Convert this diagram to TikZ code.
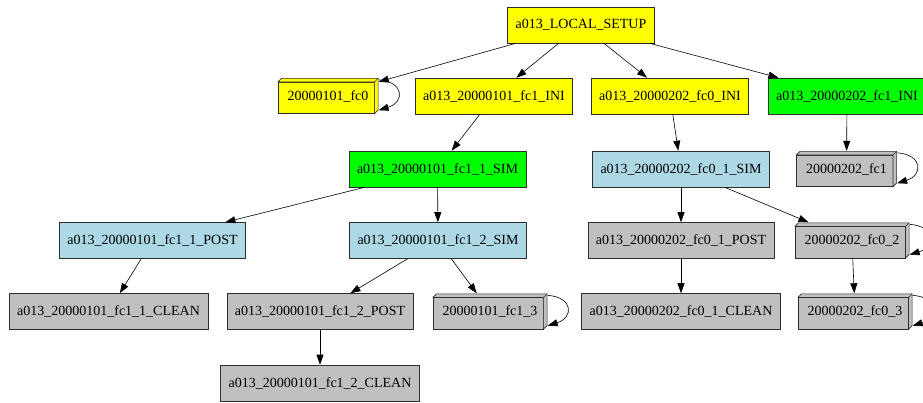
\documentclass[tikz,border=0pt]{standalone}
\usepackage{fontspec}
\setmainfont{Liberation Serif}
\usetikzlibrary{arrows.meta,calc}
\definecolor{yell}{RGB}{255,255,0}
\definecolor{lime}{RGB}{0,255,0}
\definecolor{lightblue}{RGB}{173,216,230}
\definecolor{silver}{RGB}{192,192,192}
\definecolor{edgegray}{RGB}{45,45,45}

\tikzset{
	job/.style={shape=rectangle,draw=edgegray,line width=0.6pt,
		minimum height=36pt,inner xsep=8pt,inner ysep=0pt,
		font=\fontsize{14}{16}\selectfont},
	box3d/.style={shape=rectangle,draw=none,
		minimum height=36pt,inner xsep=10pt,inner ysep=0pt,
		font=\fontsize{14}{16}\selectfont,
		path picture={
			\path (path picture bounding box.south west) coordinate (bsw)
				(path picture bounding box.north east) coordinate (bne);
			\filldraw[fill=#1,draw=edgegray,line width=0.6pt]
				($(bsw)+(0.3pt,0.3pt)$) rectangle ($(bne)+(-4pt,-4pt)$);
			\filldraw[fill=#1,draw=edgegray,line width=0.6pt]
				($(bsw|-bne)+(0.3pt,-4pt)$) -- ($(bsw|-bne)+(4pt,-0.3pt)$)
				-- ($(bne)+(-0.3pt,-0.3pt)$) -- ($(bne|-bsw)+(-0.3pt,4pt)$)
				-- ($(bne|-bsw)+(-4pt,0.3pt)$) -- ($(bne)+(-4pt,-4pt)$) -- cycle;
			\draw[edgegray,line width=0.6pt] ($(bne)+(-4pt,-4pt)$) -- ($(bne)+(-0.3pt,-0.3pt)$);
		}},
	link/.style={-{Triangle[length=10pt,width=7pt]},line width=0.6pt,black},
	selfloop/.style={link,shorten >=0pt}
}

\begin{document}
\begin{tikzpicture}[x=1pt,y=-1pt]
		\useasboundingbox (0,0) rectangle (923,402);
		\draw node(setup)[job,fill=yell,at={(581,25)}]{a013\_LOCAL\_SETUP};

		\draw node(fczero)[box3d=yell,at={(328,96)}]{20000101\_fc0};
		\draw node(inia)[job,fill=yell,at={(494,96)}]{a013\_20000101\_fc1\_INI};
		\draw node(inib)[job,fill=yell,at={(670,96)}]{a013\_20000202\_fc0\_INI};
		\draw node(inic)[job,fill=lime,at={(847,96)}]{a013\_20000202\_fc1\_INI};

		\draw node(sima)[job,fill=lime,at={(437.5,169)}]{a013\_20000101\_fc1\_1\_SIM};
		\draw node(simb)[job,fill=lightblue,at={(681,169)}]{a013\_20000202\_fc0\_1\_SIM};
		\draw node(fcone)[box3d=silver,at={(846.5,169)}]{20000202\_fc1};

		\draw node(posta)[job,fill=lightblue,at={(152.5,240.5)}]{a013\_20000101\_fc1\_1\_POST};
		\draw node(simc)[job,fill=lightblue,at={(438,240.5)}]{a013\_20000101\_fc1\_2\_SIM};
		\draw node(postb)[job,fill=silver,at={(681,240.5)}]{a013\_20000202\_fc0\_1\_POST};
		\draw node(fctwo)[box3d=silver,at={(852,240.5)}]{20000202\_fc0\_2};

		\draw node(cleana)[job,fill=silver,at={(108.5,311.5)}]{a013\_20000101\_fc1\_1\_CLEAN};
		\draw node(postc)[job,fill=silver,at={(320,311.5)}]{a013\_20000101\_fc1\_2\_POST};
		\draw node(fcthree)[box3d=silver,at={(490,311.5)}]{20000101\_fc1\_3};
		\draw node(cleanb)[job,fill=silver,at={(681,311.5)}]{a013\_20000202\_fc0\_1\_CLEAN};
		\draw node(fcfour)[box3d=silver,at={(855,311.5)}]{20000202\_fc0\_3};

		\draw node(cleanc)[job,fill=silver,at={(320,383)}]{a013\_20000101\_fc1\_2\_CLEAN};

		\draw[link] (setup) -- (fczero);
		\draw[link] (setup) -- (inia);
		\draw[link] (setup) -- (inib);
		\draw[link] (setup) -- (inic);
		\draw[link] (inia) -- (sima);
		\draw[link] (inib) -- (simb);
		\draw[link] (inic) -- (fcone);
		\draw[link] (sima) -- (posta);
		\draw[link] (sima) -- (simc);
		\draw[link] (simb) -- (postb);
		\draw[link] (simb) -- (fctwo);
		\draw[link] (posta) -- (cleana);
		\draw[link] (simc) -- (postc);
		\draw[link] (simc) -- (fcthree);
		\draw[link] (postb) -- (cleanb);
		\draw[link] (fctwo) -- (fcfour);
		\draw[link] (postc) -- (cleanc);

		\foreach \n in {fczero,fcone,fctwo,fcthree,fcfour}
			\draw[selfloop] ($(\n.north east)+(0,-2pt)$) .. controls +(26pt,-2pt) and +(26pt,8pt) .. ($(\n.south east)+(0,4pt)$);
\end{tikzpicture}
\end{document}
